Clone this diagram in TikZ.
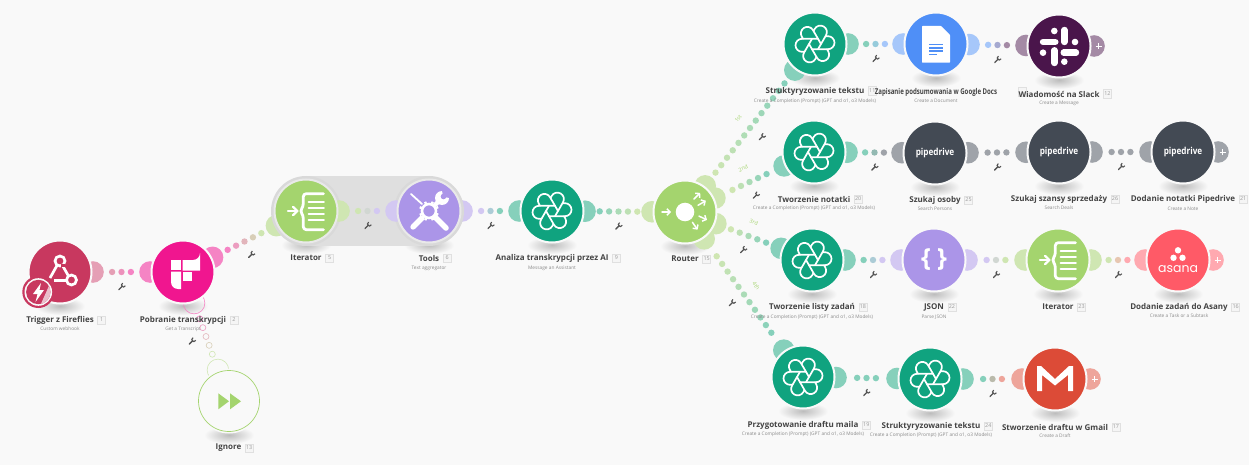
\documentclass[tikz,border=0pt]{standalone}
\usepackage{fontspec}
\setmainfont{Open Sans}
\newfontfamily\poppfont{Poppins}
\usetikzlibrary{calc,backgrounds,arrows.meta}
\definecolor{bg}{HTML}{F9F9F9}
\definecolor{oai}{HTML}{10A37F}\definecolor{oail}{HTML}{86D0BB}
\definecolor{crim}{HTML}{C8385F}\definecolor{criml}{HTML}{E59FB5}
\definecolor{fire}{HTML}{F0168F}\definecolor{firel}{HTML}{F584C4}
\definecolor{grn}{HTML}{A4D46E}\definecolor{grnl}{HTML}{CFE6B2}
\definecolor{pur}{HTML}{AB95E8}\definecolor{purl}{HTML}{D3C8F2}
\definecolor{gdoc}{HTML}{4F8FF7}\definecolor{gdocl}{HTML}{A6C7FA}
\definecolor{slk}{HTML}{4A154B}\definecolor{slkl}{HTML}{A48AA5}
\definecolor{pipe}{HTML}{434A54}\definecolor{pipel}{HTML}{9FA3A9}
\definecolor{asa}{HTML}{FF5A67}\definecolor{asal}{HTML}{FFA9B0}
\definecolor{gml}{HTML}{DC4B37}\definecolor{gmll}{HTML}{EEA59B}
\definecolor{txt}{HTML}{444444}\definecolor{subt}{HTML}{8A8A8A}
\definecolor{grouphalo}{HTML}{E9E9E9}
\tikzset{
  mod/.style={circle,fill=#1,draw=bg,line width=2,minimum size=63,inner sep=0,outer sep=0},
  modg/.style={mod=#1,draw=grouphalo},
  title/.style={font=\fontsize{8}{10}\selectfont\bfseries,text=txt,inner sep=0},
  subtitle/.style={font=\fontsize{4.8}{6}\selectfont,text=subt,inner sep=0},
  numbox/.style={draw=black!12,fill=black!4,line width=.5,minimum width=8,minimum height=8.5,inner sep=0,
     font=\fontsize{5.4}{6}\selectfont,text=black!40},
  route/.style={font=\fontsize{5.4}{6}\selectfont,text=grn,inner sep=0},
  wh/.style={white,line cap=round,line join=round},
}
\newcommand\lblbase[6]{% id,x,y,title,sub,suby
  \node[title] (t#1) at (#2,#3) {#4};
  \if\relax\detokenize{#5}\relax\else
    \node[subtitle] (s#1) at (#2,#6) {#5};
  \fi}
\newcommand\lbl[7]{% id,x,y,title,num,sub,suby
  \lblbase{#1}{#2}{#3}{#4}{#6}{#7}
  \node[numbox,anchor=west] (b#1) at ($(t#1.east)+(3.5,0)$) {#5};}
\newcommand\tool[1]{\begin{scope}[shift={(#1)},rotate=45,black!68]
  \draw[line width=1.3,line cap=round] (-3.6,0)--(1.2,0);
  \draw[line width=1.1] (3.6,-1.9)--(1.4,-1.5)--(1,0)--(1.4,1.5)--(3.6,1.9);
  \end{scope}}
\newcommand\lnk[5]{% a,b,colA,colB,n
  \coordinate (m) at ($(#1)!.5!(#2)$);
  \coordinate (w) at ($(m)!15pt!-90:(#2)$);
  \fill[#3] ($(#1)!33pt!(#2)$) circle (10.8);
  \fill[#4] ($(#2)!33pt!(#1)$) circle (10.8);
  \pgfmathtruncatemacro\last{#5-1}
  \foreach \k in {0,...,\last}{
    \pgfmathsetmacro\d{(\k-\last/2)*9.4}
    \pgfmathtruncatemacro\p{100-100*\k/\last}
    \fill[#3!\p!#4] ($(m)!\d pt!(#2)$) circle (3.2);}
  \tool{w}}
\newcommand\lnkh[5]{% hollow link
  \coordinate (m) at ($(#1)!.5!(#2)$);
  \coordinate (w) at ($(m)!15pt!-90:(#2)$);
  \draw[#3,line width=.6] ($(#1)!33pt!(#2)$) circle (10.8);
  \draw[#4,line width=.6] ($(#2)!33pt!(#1)$) circle (10.8);
  \pgfmathtruncatemacro\last{#5-1}
  \foreach \k in {0,...,\last}{
    \pgfmathsetmacro\d{(\k-\last/2)*9.4}
    \pgfmathtruncatemacro\p{100-100*\k/\last}
    \draw[#3!\p!#4,line width=.6] ($(m)!\d pt!(#2)$) circle (3);}
  \tool{w}}
\newcommand\routetag[3]{\node[route,rotate=#3] (r#2) at ($($(#1)!.5!(nR)$)!15pt!-90:(nR)$) {#2};}
\newcommand\plusend[2]{%
  \fill[#2] ($(#1)+(35,0)$) circle (10.8);
  \draw[white,line width=.9] ($(#1)+(36.5,0)$) -- ($(#1)+(42.5,0)$) ($(#1)+(39.5,-3)$) -- ($(#1)+(39.5,3)$);}
\newcommand\shadowof[1]{\shade[inner color=black!26,outer color=bg] ($(#1)+(0,34)$) ellipse (25 and 9);}
\newcommand\oailogo[1]{\begin{scope}[shift={(#1)}]
  \foreach \a in {0,60,...,300}{
    \draw[wh,line width=1.7,rotate=\a,y=1pt] (3,-5.2) -- (11,8.66) arc[start angle=-30,end angle=150,radius=6.5] -- (-1.5,13);}
  \end{scope}}
\newcommand\iteratorlogo[1]{\begin{scope}[shift={(#1)}]
  \draw[wh,line width=2.8,rounded corners=3] (17.5,-17.3) -- (-2.7,-17.3) -- (-2.7,-4.5) -- (-6,0) -- (-2.7,4.5) -- (-2.7,18.7) -- (17.5,18.7);
  \foreach \y in {-9.2,-3.3,2.7,8.7}{\draw[wh,line width=2] (2.6,\y)--(17.8,\y);}
  \draw[wh,line width=2.4] (-18,0)--(-9,0);
  \draw[wh,line width=2.2] (-13,-4.2)--(-8.6,0)--(-13,4.2);
  \end{scope}}
\newcommand\pipelogo[1]{\node[font=\fontsize{9.6}{12}\selectfont\bfseries,text=white,inner sep=0] (pd#1) at (#1) {\scalebox{.85}[1]{pipedrive}};}
\begin{document}
\begin{tikzpicture}[x=1pt,y=-1pt]
\useasboundingbox (0,0) rectangle (1249,465);
% modules
\node[mod=crim] (n1) at (60,272) {};
\node[mod=fire] (n2) at (183,272) {};
\node[modg=grn] (n5) at (306,211) {};
\node[modg=pur] (n6) at (429,211) {};
\node[mod=oai] (n9) at (552,211) {};
\node[mod=grn] (nR) at (685,212) {};
\node[mod=bg] (n13) at (229,401) {};
\node[mod=oai] (n11) at (815,44) {};
\node[mod=gdoc] (n14) at (936,44) {};
\node[mod=slk] (n12) at (1059,46) {};
\node[mod=oai] (n20) at (814,152) {};
\node[mod=pipe] (n25) at (935,153) {};
\node[mod=pipe] (n26) at (1059,152) {};
\node[mod=pipe] (n21) at (1183,152) {};
\node[mod=oai] (n18) at (812,260) {};
\node[mod=pur] (n22) at (934,260) {};
\node[mod=grn] (n23) at (1058,260) {};
\node[mod=asa] (n16) at (1178,260) {};
\node[mod=oai] (n19) at (803,377) {};
\node[mod=oai] (n24) at (930,379) {};
\node[mod=gml] (n17) at (1055,379) {};
% under the modules
\begin{scope}[on background layer]
  \fill[bg] (0,0) rectangle (1249,465);
  \foreach \n in {n1,n2,n5,n6,n9,nR,n13,n11,n14,n12,n20,n25,n26,n21,n18,n22,n23,n16,n19,n24,n17}{\shadowof{\n}}
  \lnk{n1}{n2}{criml}{firel}{3}
  \lnk{n2}{n5}{firel}{grnl}{5}
  \lnkh{n2}{n13}{firel}{grnl}{5}
  \lnk{n6}{n9}{purl}{oail}{3}
  \lnk{n9}{nR}{oail}{grnl}{5}
  \lnk{nR}{n11}{grnl}{oail}{13}
  \lnk{nR}{n20}{grnl}{oail}{5}
  \lnk{nR}{n18}{grnl}{oail}{5}
  \lnk{nR}{n19}{grnl}{oail}{11}
  \lnk{n11}{n14}{oail}{gdocl}{3}
  \lnk{n14}{n12}{gdocl}{slkl}{3}
  \lnk{n20}{n25}{oail}{pipel}{3}
  \lnk{n25}{n26}{pipel}{pipel}{3}
  \lnk{n26}{n21}{pipel}{pipel}{3}
  \lnk{n18}{n22}{oail}{purl}{3}
  \lnk{n22}{n23}{purl}{grnl}{3}
  \lnk{n23}{n16}{grnl}{asal}{3}
  \lnk{n19}{n24}{oail}{oail}{3}
  \lnk{n24}{n17}{oail}{gmll}{3}
  \plusend{n12}{slkl}
  \plusend{n21}{pipel}
  \plusend{n16}{asal}
  \plusend{n17}{gmll}
  % grey group behind Iterator and Tools
  \fill[black!12.5] (306,176) rectangle (429,246);
  \fill[black!15] (n5) circle (35) (n6) circle (35);
  \lnk{n5}{n6}{grnl}{purl}{3}
\end{scope}
% route tags
\routetag{n11}{1st}{52}
\routetag{n20}{2nd}{25}
\routetag{n18}{3rd}{-20}
\routetag{n19}{4th}{-54}
% Trigger icon
\begin{scope}[shift={(n1)}]
  \draw[white,line width=2.7] (0,-11) circle (5);
  \draw[white,line width=2.7] (11.5,8) circle (5);
  \draw[white,line width=2.7] (-3,-6.5) -- (-10,6);
  \draw[white,line width=2.7] (2.5,-6.5) -- (8.5,4);
  \draw[white,line width=2.7] (-6,8.5) -- (6.5,8.5);
  \fill[crim] (4.5,-8) -- (1,-8) -- (1,-5) -- (4.5,-5) -- cycle;
\end{scope}
\fill[crim] (38.3,292) circle (16);
\fill[bg] (38.3,292) circle (13.8);
\fill[crim] (38.3,292) circle (12.2);
\begin{scope}
  \clip (38.3,292) circle (12.2);
  \fill[crim!30!bg] (52,279) -- (40,306) -- (52,306) -- cycle;
\end{scope}
\fill[white] (41,283) -- (33,294) -- (37.5,294) -- (35.5,302) -- (44,290) -- (39.5,290) -- cycle;
% Fireflies icon
\begin{scope}[shift={(n2)}]
  \fill[white] (-12,-12) rectangle (-2,-2);
  \fill[white] (-0.3,-12) -- (10,-12) arc[start angle=90,end angle=0,radius=7] -- (17,-1.3) -- (-0.3,-1.3) -- cycle;
  \fill[white] (-12,-0.3) -- (-2,-0.3) -- (-2,17) -- (-5,17) arc[start angle=90,end angle=180,radius=7] -- cycle;
  \fill[white] (-0.3,-0.3) rectangle (9,8.7);
\end{scope}
\iteratorlogo{n5}
\iteratorlogo{n23}
% Tools icon
\begin{scope}[shift={(n6)}]
  \foreach \a in {0,45,...,315}{\draw[white,line width=2.4] (\a+22:6)--(\a+22:10);}
  \draw[white,line width=2.6] (0,0) circle (7);
  \draw[wh,line width=1.8] (-18,-17)--(-7,-7);
  \draw[wh,line width=5.6] (6,6)--(17,17);
  \draw[wh,line width=5.4] (-7,7)--(-16,16);
  \draw[wh,line width=4.4] (6,-6)--(11,-11);
  \fill[white] (13,-13) circle (7);
  \fill[pur] (14,-14) -- (21,-13) -- (21,-21) -- (13,-21) -- cycle;
  \fill[pur] (14.5,-14.5) circle (2.8);
\end{scope}
\foreach \n in {n9,n11,n20,n18,n19,n24}{\oailogo{\n}}
% Router icon
\begin{scope}[shift={(nR)}]
  \fill[white] (0,0) circle (9.3);
  \foreach \x/\y/\a in {-18.5/0/0,12/-16/45,17/-9/30,18/6/-25,10/14/-55}{
    \draw[wh,line width=1.5,-{Straight Barb[length=3,width=6.5]},rotate around={\a:(\x,\y)}] (\x-4.5,\y)--(\x+4.5,\y);}
\end{scope}
% Ignore icon
\draw[grn,line width=.7] (n13) circle (30.5);
\begin{scope}[shift={(n13)}]
  \fill[grn] (-10.7,-7.7) -- (0,0.3) -- (-10.7,8.3) -- cycle;
  \fill[grn] (1,-7.7) -- (12,0.3) -- (1,8.3) -- cycle;
\end{scope}
% Google Docs icon
\begin{scope}[shift={(n14)}]
  \fill[white,rounded corners=.5] (-14,-18) -- (5,-18) -- (14,-9) -- (14,18.7) -- (-14,18.7) -- cycle;
  \foreach \y/\e in {0.5/7,3.8/7,7.1/7,10.4/1}{\draw[gdoc,line width=1.5] (-6.7,\y)--(\e,\y);}
\end{scope}
% Slack icon
\begin{scope}[shift={(n12)}]
  \foreach \xa/\ya/\xb/\yb in {-16/-4/-3.7/-4, 5.3/-16/5.3/-4, 4.7/6.7/17/6.7, -4.7/4.3/-4.7/17}{
    \draw[wh,line width=6.4] (\xa,\ya)--(\xb,\yb);}
  \foreach \x/\y in {-4.7/-15,16/-4,5.3/15.7,-16/6.7}{\fill[white] (\x,\y) circle (3.3);}
\end{scope}
% Pipedrive
\pipelogo{n25}
\pipelogo{n26}
\pipelogo{n21}
% JSON icon
\node[font=\fontsize{25}{27}\selectfont\bfseries,text=white,inner sep=0] (jsonlogo) at (n22) {\{\hspace{6pt}\}};
% Asana icon
\begin{scope}[shift={(n16)}]
  \fill[white] (0,-9.7) circle (3.2) (-4.5,-2.2) circle (3.2) (4.5,-2.2) circle (3.2);
\end{scope}
\node[font=\poppfont\fontsize{12.5}{14}\selectfont,text=white,inner sep=0] (asanalogo) at ($(n16)+(0,8.6)$) {asana};
% Gmail icon
\begin{scope}[shift={(n17)}]
  \fill[white] (-18,-13) -- (-14,-13) -- (0,0) -- (14,-13) -- (18,-13) -- (18,12) -- (13,12) -- (13,-4) -- (0,6.5) -- (-13,-4) -- (-13,12) -- (-18,12) -- cycle;
\end{scope}
% Labels
\node[numbox] (b14) at (1022.7,92) {};
\lbl{1}{60}{320}{Trigger z Fireflies}{1}{Custom webhook}{329}
\lbl{2}{183}{320}{Pobranie transkrypcji}{2}{Get a Transcript}{329}
\lbl{5}{306}{258}{Iterator}{5}{}{}
\lbl{6}{429}{258}{Tools}{6}{Text aggregator}{268}
\lbl{9}{552}{258}{Analiza transkrypcji przez AI}{9}{Message an Assistant}{268}
\lbl{15}{685}{259}{Router}{15}{}{}
\lbl{13}{228.5}{448}{Ignore}{13}{}{}
\lbl{11}{815}{91}{Struktyryzowanie tekstu}{11}{Create a Completion (Prompt) (GPT and o1, o3 Models)}{101}
\lblbase{14}{936}{92}{\scalebox{.76}[1]{Zapisanie podsumowania w Google Docs}}{Create a Document}{101}
\lbl{12}{1059}{94}{Wiadomość na Slack}{12}{Create a Message}{103}
\lbl{20}{814}{199}{Tworzenie notatki}{20}{Create a Completion (Prompt) (GPT and o1, o3 Models)}{208}
\lbl{25}{935}{200}{Szukaj osoby}{25}{Search Persons}{209}
\lbl{26}{1059}{199}{Szukaj szansy sprzedaży}{26}{Search Deals}{208}
\lbl{21}{1183}{199}{Dodanie notatki Pipedrive}{21}{Create a Note}{209}
\lbl{18}{812}{307}{Tworzenie listy zadań}{18}{Create a Completion (Prompt) (GPT and o1, o3 Models)}{317}
\lbl{22}{934}{307}{JSON}{22}{Parse JSON}{317}
\lbl{23}{1058}{307}{Iterator}{23}{}{}
\lbl{16}{1179}{307}{Dodanie zadań do Asany}{16}{Create a Task or a Subtask}{316}
\lbl{19}{803}{425}{Przygotowanie draftu maila}{19}{Create a Completion (Prompt) (GPT and o1, o3 Models)}{434}
\lbl{24}{931}{426}{Struktyryzowanie tekstu}{24}{Create a Completion (Prompt) (GPT and o1, o3 Models)}{435}
\lbl{17}{1055}{427}{Stworzenie draftu w Gmail}{17}{Create a Draft}{436}
\end{tikzpicture}
\end{document}
